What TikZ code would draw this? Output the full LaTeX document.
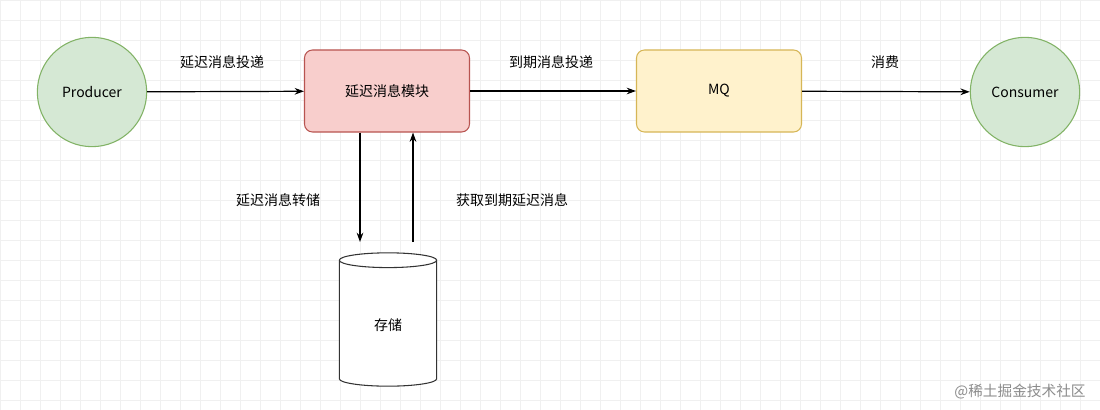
\documentclass[tikz,border=0pt]{standalone}
\usepackage{fontspec}
\setmainfont{Noto Sans CJK SC}
\usetikzlibrary{arrows.meta,shapes.geometric}
\definecolor{pinkf}{HTML}{F8CECC}\definecolor{pinkd}{HTML}{B85450}
\definecolor{yelf}{HTML}{FFF2CC}\definecolor{yeld}{HTML}{D6B656}
\definecolor{grnf}{HTML}{D5E8D4}\definecolor{grnd}{HTML}{82B366}
\begin{document}
\begin{tikzpicture}[x=0.75pt,y=-0.75pt,font=\fontsize{10.5pt}{12pt}\selectfont,
  box/.style={rectangle,rounded corners=6pt,minimum width=123.75pt,minimum height=61.5pt,line width=0.8pt},
  circ/.style={circle,minimum size=82pt,line width=0.8pt,draw=grnd,fill=grnf},
  arr/.style={-{Stealth[length=7pt,width=5pt]},line width=0.9pt},
  lab/.style={font=\fontsize{10.5pt}{12pt}\selectfont}]
\useasboundingbox (0,0) rectangle (1100,410);
\fill[white] (0,0) rectangle (1100,410);
\draw[black!6,line width=0.4pt] (0,0) grid[step=15pt] (1100,410);
\node[circ] (p) at (92,92) {Producer};
\node[box,draw=pinkd,fill=pinkf] (d) at (387,91) {延迟消息模块};
\node[box,draw=yeld,fill=yelf] (m) at (719,91) {MQ};
\node[circ] (c) at (1025,92) {Consumer};
\node[cylinder,shape border rotate=90,aspect=0.4,draw=black!80,fill=white,line width=0.8pt,minimum width=73pt,minimum height=100pt] (s) at (388,325) {存储};
\coordinate (a1) at (360,242);
\coordinate (a2) at (413,242);
\draw[arr] (p) -- (d);
\draw[arr] (d) -- (m);
\draw[arr] (m) -- (c);
\draw[arr] (d.south -| a1) -- (a1);
\draw[arr] (a2) -- (d.south -| a2);
\node[lab] (l1) at (222,62) {延迟消息投递};
\node[lab] (l2) at (551,62) {到期消息投递};
\node[lab] (l3) at (885,62) {消费};
\node[lab] (l4) at (278,200) {延迟消息转储};
\node[lab] (l5) at (512,200) {获取到期延迟消息};
\node[text=black!45,font=\fontsize{11pt}{12pt}\selectfont] (w) at (1020,392) {@稀土掘金技术社区};
\end{tikzpicture}
\end{document}
